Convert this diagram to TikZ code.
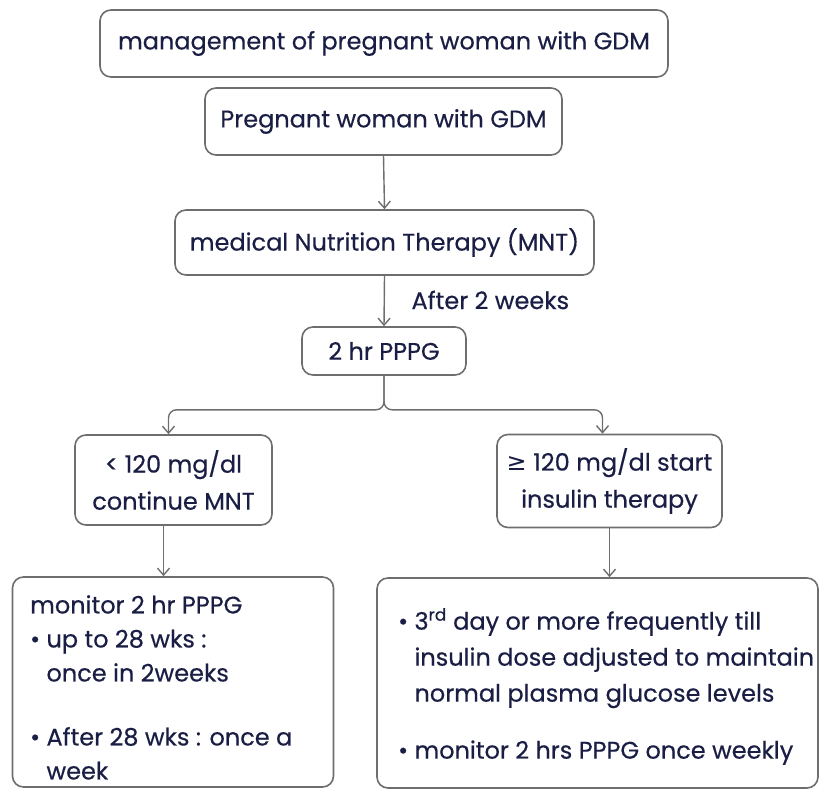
\documentclass[tikz,border=0pt]{standalone}
\usepackage{fontspec}
\setmainfont{Poppins}[FakeBold=0.4]
\newfontfamily\symfont{DejaVu Sans}
\usetikzlibrary{arrows.meta}
\definecolor{ink}{HTML}{1A1E44}
\definecolor{frame}{HTML}{6E6E6E}
\tikzset{
  box/.style={draw=frame, line width=1.6pt, rounded corners=11pt, fill=white,
    text=ink, align=center, inner sep=0pt, font=\fontsize{24}{31}\selectfont},
  twoline/.style={font=\fontsize{24}{37}\selectfont},
  link/.style={draw=frame, line width=1.4pt, rounded corners=8pt,
    -{Straight Barb[length=7pt,width=12pt,line width=1.4pt]}},
  note/.style={text=ink, font=\fontsize{24}{30}\selectfont}
}
\begin{document}
\begin{tikzpicture}[x=1pt,y=-1pt]
\useasboundingbox (0,0) rectangle (821,791);

\node[box, minimum width=568pt, minimum height=67pt] (title) at (384,43.5)
  {management of pregnant woman with GDM};
\node[box, minimum width=357pt, minimum height=67pt] (woman) at (383.5,121.5)
  {Pregnant woman with GDM};
\node[box, minimum width=419pt, minimum height=65pt] (mnt) at (384.5,242.5)
  {medical Nutrition Therapy (MNT)};
\node[box, minimum width=164pt, minimum height=48pt] (pppg) at (384,351)
  {2 hr PPPG};
\node[box, twoline, minimum width=197pt, minimum height=90pt] (low) at (173.5,480)
  {< 120 mg/dl\\continue MNT};
\node[box, twoline, minimum width=225pt, minimum height=93pt] (high) at (609.5,481)
  {{\symfont ≥} 120 mg/dl start\\insulin therapy};

% lower boxes with their lists
\node[box, minimum width=321pt, minimum height=210pt] (lowplan) at (173,682) {};
\node[note, anchor=north west, align=left, inner sep=0pt, font=\fontsize{24}{34}\selectfont]
  (lowtext) at (30,595)
  {monitor 2 hr PPPG\\
   \textbullet\ up to 28 wks :\\
   \phantom{\textbullet\ }once in 2weeks\\[30pt]
   \textbullet\ After 28 wks : once a\\
   \phantom{\textbullet\ }week};
\node[box, minimum width=441pt, minimum height=210pt] (highplan) at (597.5,683) {};
\node[note, anchor=north west, align=left, inner sep=0pt, font=\fontsize{24}{36}\selectfont]
  (hightext) at (398,608)
  {\textbullet\ 3\textsuperscript{rd} day or more frequently till\\
   \phantom{\textbullet\ }insulin dose adjusted to maintain\\
   \phantom{\textbullet\ }normal plasma glucose levels\\[21pt]
   \textbullet\ monitor 2 hrs PPPG once weekly};

% connectors
\draw[link] (woman.south) -- (mnt.north);
\draw[link] (mnt.south) -- (pppg.north);
\node[note, anchor=west] (after) at (408,300) {After 2 weeks};
\draw[link] (pppg.south) -- ++(0,34) -| ([xshift=-5pt]low.north);
\draw[link] (pppg.south) -- ++(0,34) -| ([xshift=-7pt]high.north);
\draw[link] ([xshift=-10pt]low.south) -- ([xshift=-10pt]low.south |- lowplan.north);
\draw[link] (high.south) -- (high.south |- highplan.north);
\end{tikzpicture}
\end{document}
